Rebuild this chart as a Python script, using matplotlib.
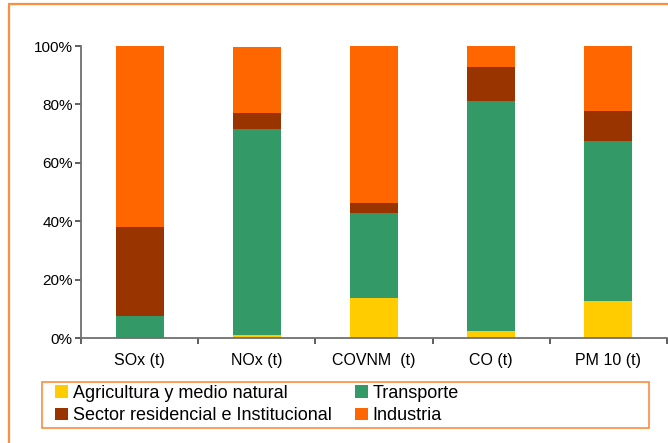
import matplotlib.pyplot as plt
from matplotlib.patches import Rectangle
from matplotlib.ticker import PercentFormatter
import numpy as np

plt.rcParams['font.family'] = ['Liberation Sans', 'DejaVu Sans']

# data (shares of total emissions, %)
categories = ["SOx (t)", "NOx (t)", "COVNM  (t)", "CO (t)", "PM 10 (t)"]
agricultura = [0.0, 1.1, 13.6, 2.5, 12.8]
transporte = [7.4, 70.5, 29.3, 78.7, 54.7]
residencial = [30.7, 5.5, 3.4, 11.6, 10.3]
industria = [61.9, 22.6, 53.7, 7.2, 22.2]

series_names = ["Agricultura y medio natural", "Transporte",
                "Sector residencial e Institucional", "Industria"]
colors = ["#FFCC00", "#339966", "#993300", "#FF6600"]

W, H = 668, 443
fig = plt.figure(figsize=(W / 100, H / 100), dpi=100)
ax = fig.add_axes([81 / W, 1 - 338 / H, 586 / W, 292 / H])

x = np.arange(len(categories))
series = [agricultura, transporte, residencial, industria]
bottom = np.zeros(len(categories))
bars = []
for vals, c, name in zip(series, colors, series_names):
    vals = np.array(vals) / 100.0
    b = ax.bar(x, vals, width=0.41, bottom=bottom, color=c, label=name, linewidth=0)
    bars.append(b)
    bottom += vals

ax.set_xlim(-0.5, len(categories) - 0.5)
ax.set_ylim(0, 1)
ax.set_yticks(np.arange(0, 1.01, 0.2))
ax.yaxis.set_major_formatter(PercentFormatter(1.0, decimals=0))
ax.set_xticks(x)
ax.set_xticklabels(categories)
ax.set_xticks(np.arange(-0.5, len(categories)), minor=True)
ax.tick_params(axis='x', which='major', length=0, pad=11, labelsize=11.5)
ax.tick_params(axis='x', which='minor', length=4, width=1.1, color='#333333')
ax.tick_params(axis='y', length=4, width=1.1, color='#333333', pad=2, labelsize=11)

for s in ['top', 'right']:
    ax.spines[s].set_visible(False)
for s in ['left', 'bottom']:
    ax.spines[s].set_color('#707070')
    ax.spines[s].set_linewidth(1.3)

# legend (column order: Agricultura, Sector / Transporte, Industria)
order = [0, 2, 1, 3]
leg = fig.legend([bars[i] for i in order], [series_names[i] for i in order],
                 loc='upper left', bbox_to_anchor=(55 / W, 1 - 385 / H),
                 ncol=2, frameon=False, fontsize=13, borderpad=0,
                 borderaxespad=0, handlelength=0.72, handleheight=0.7,
                 handletextpad=0.25, columnspacing=1.3, labelspacing=0.3)

# legend frame
fig.patches.append(Rectangle((41.5 / W, 1 - 428 / H), (649 - 41.5) / W, 46 / H,
                             transform=fig.transFigure, fill=False,
                             edgecolor='#FF8C40', linewidth=1.2))
# outer chart border (clipped at right and bottom)
fig.patches.append(Rectangle((8.5 / W, -0.1), 1.0, 1.1 - 4.5 / H,
                             transform=fig.transFigure, fill=False,
                             edgecolor='#FF8C40', linewidth=1.6))

plt.savefig("out.png", dpi=100)
